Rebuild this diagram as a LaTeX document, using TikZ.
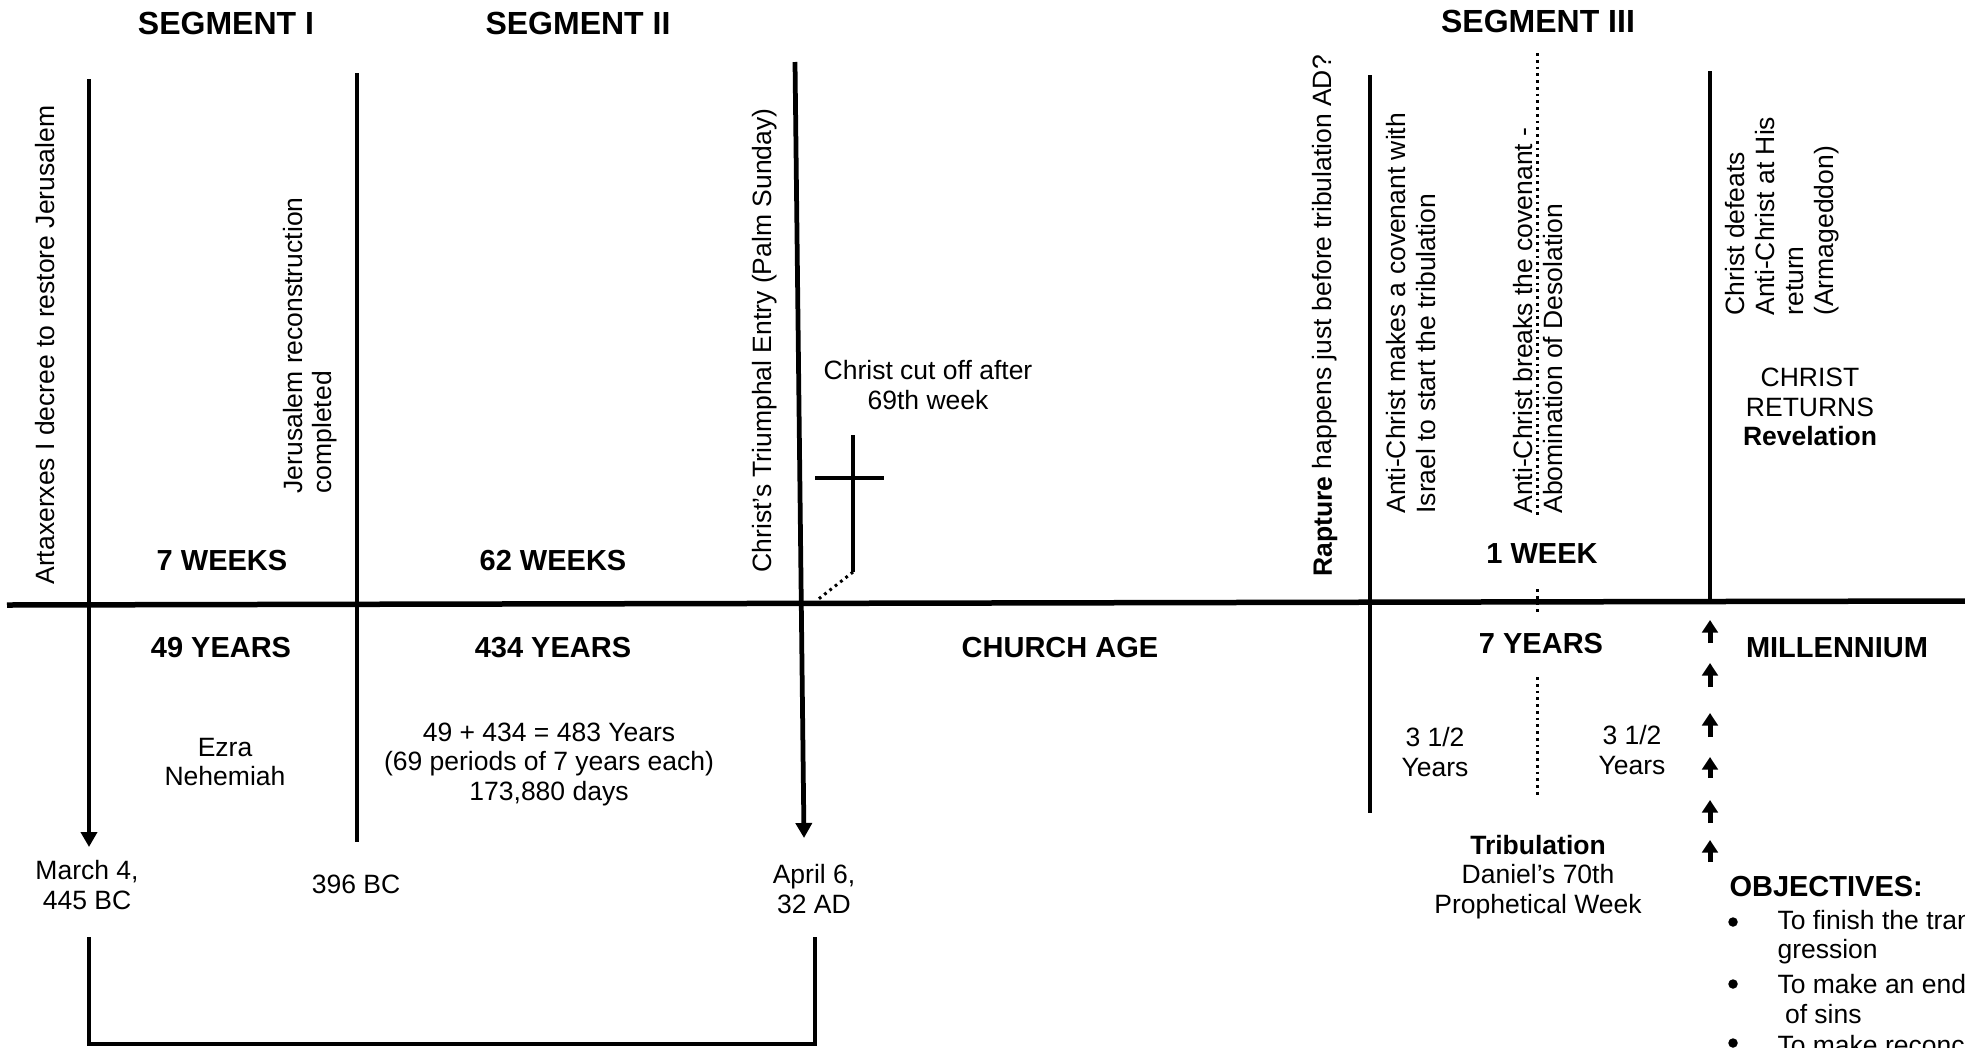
\documentclass[tikz,border=0pt]{standalone}
\usepackage{fontspec}
\setmainfont{Liberation Sans}
\usetikzlibrary{arrows.meta}
\newcommand{\txtsize}{\fontsize{10.6}{11.8}\selectfont}
\newcommand{\lblsize}{\fontsize{11.6}{13}\selectfont}
\newcommand{\segsize}{\fontsize{12.8}{14}\selectfont}

\begin{document}
\begin{tikzpicture}[x=0.4pt, y=-0.4pt,
    txt/.style={font=\txtsize, align=center, inner sep=0},
    lbl/.style={font=\lblsize\bfseries, inner sep=0},
    seg/.style={font=\segsize\bfseries, inner sep=0},
    vtxt/.style={font=\txtsize, rotate=90, anchor=west, align=left, inner sep=0},
    dot/.style={circle, fill, inner sep=0, minimum size=3.8pt},
    bar/.style={line width=1.9pt},
    dots/.style={line width=1.2pt, dash pattern=on 1.1pt off 1.6pt},
    down/.style={bar, -{Triangle[length=6pt, width=6.4pt]}},
    up/.style={line width=2pt, -{Triangle[length=5pt, width=6.2pt]}}]

    \useasboundingbox (0,0) rectangle (1965,1047);

    % Segment headings
    \node[seg] (segI) at (226,23) {SEGMENT I};
    \node[seg] (segII) at (578,23) {SEGMENT II};
    \node[seg] (segIII) at (1538,21) {SEGMENT III};

    % Time line
    \draw[line width=2.2pt] (7,605) -- (1965,601);

    % Vertical markers
    \draw[down] (89,79) -- (89,847);
    \draw[bar] (357,73) -- (357,842);
    \draw[down] (795,62) -- (804,838);
    \draw[bar] (1370,75) -- (1370,813);
    \draw[bar] (1710,71) -- (1710,604);

    % Middle of the week
    \draw[dots] (1537,53) -- (1537,518);
    \draw[dots] (1537,589) -- (1537,612);
    \draw[dots] (1537,677) -- (1537,798);

    % Cross
    \draw[bar] (853,435) -- (853,572);
    \draw[bar] (815,478) -- (884,478);
    \draw[dots] (853,572) -- (816,601);

    % Millennium arrows
    \foreach \tip/\tail in {620/643, 663/687, 713/737, 757/778, 800/823, 840/862}
        \draw[up] (1710,\tail) -- (1710,\tip);

    % 69 weeks bracket
    \draw[bar] (89,937) -- (89,1044) -- (815,1044) -- (815,937);

    % Event labels
    \node[vtxt] (decree) at (45,585) {Artaxerxes I decree to restore Jerusalem};
    \node[vtxt] (rebuilt) at (310,494) {Jerusalem reconstruction\\completed};
    \node[vtxt] (entry) at (765,573) {Christ’s Triumphal Entry (Palm Sunday)};
    \node[vtxt] (rapture) at (1325,577) {\textbf{Rapture} happens just before tribulation AD?};
    \node[vtxt] (covenant) at (1411,514) {Anti-Christ makes a covenant with\\Israel to start the tribulation};
    \node[vtxt] (breaks) at (1538,514) {Anti-Christ breaks the covenant -\\Abomination of Desolation};
    \node[vtxt] (defeats) at (1782,316) {Christ defeats\\Anti-Christ at His\\return\\(Armageddon)};

    % Periods
    \node[lbl] (wk7) at (222,561) {7 WEEKS};
    \node[lbl] (wk62) at (553,561) {62 WEEKS};
    \node[lbl] (wk1) at (1542,554) {1 WEEK};
    \node[lbl] (yr49) at (221,648) {49 YEARS};
    \node[lbl] (yr434) at (553,648) {434 YEARS};
    \node[lbl] (church) at (1060,648) {CHURCH AGE};
    \node[lbl] (yr7) at (1541,644) {7 YEARS};
    \node[lbl] (mill) at (1837,648) {MILLENNIUM};

    % Notes and dates
    \node[txt] (cutoff) at (928,385) {Christ cut off after\\69th week};
    \node[txt] (ezra) at (225,762) {Ezra\\Nehemiah};
    \node[txt] (sum) at (549,764) {49 + 434 = 483 Years\\(69 periods of 7 years each)\\173,880 days};
    \node[txt] (start) at (87,885) {March 4,\\445 BC};
    \node[txt] (mid) at (356,884) {396 BC};
    \node[txt] (end) at (814,889) {April 6,\\32 AD};
    \node[txt] (halfA) at (1435,752) {3 1/2\\Years};
    \node[txt] (halfB) at (1632,750) {3 1/2\\Years};
    \node[txt] (trib) at (1538,877) {\textbf{Tribulation}\\Daniel’s 70th\\Prophetical Week};
    \node[txt] (returns) at (1810,407) {CHRIST\\RETURNS\\\textbf{Revelation}};

    % Objectives
    \node[lbl, anchor=west] (obj) at (1729,887) {OBJECTIVES:};
    \foreach \y/\b in {922/b1, 984/b2, 1043/b3}
        \node[dot] (\b) at (1733,\y) {};
    \node[txt, anchor=west, align=left] (obj1) at (1777,937) {To finish the trans\\gression};
    \node[txt, anchor=west, align=left] (obj2) at (1777,999) {To make an end\\\hspace*{3pt}of sins};
    \node[txt, anchor=west] (obj3) at (1777,1045) {To make reconciliation};

\end{tikzpicture}
\end{document}
